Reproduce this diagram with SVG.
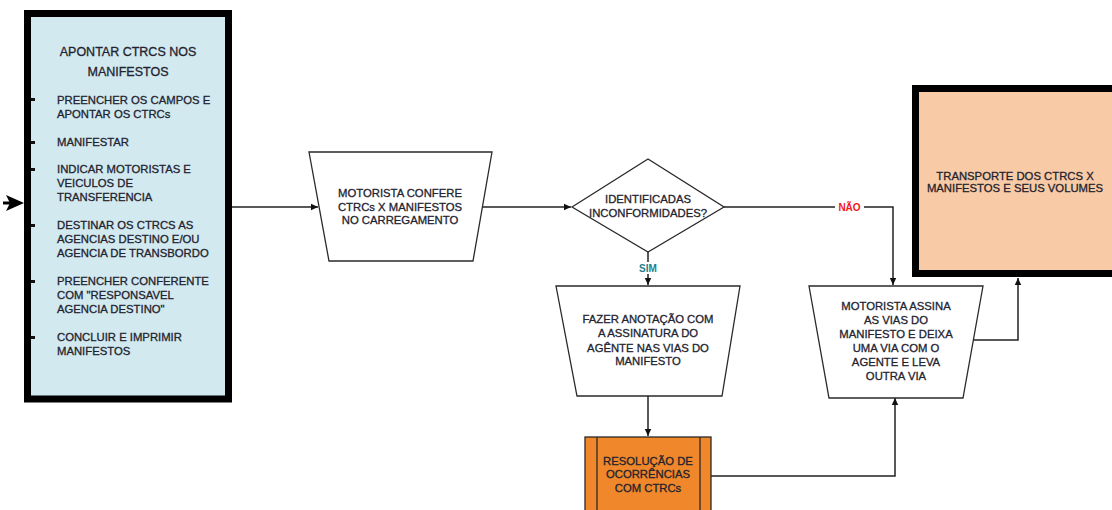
<svg xmlns="http://www.w3.org/2000/svg" width="1112" height="510" viewBox="0 0 1112 510">
  <style>
    .t { font-family: "Liberation Sans", Arial, sans-serif; font-size: 11.3px; fill: #23232f; stroke: #23232f; stroke-width: 0.3; }
    .c { text-anchor: middle; }
    .title { font-size: 12.5px; }
    .shape { stroke: #2a2a2a; stroke-width: 1.3; }
    .heavy { stroke: #000; stroke-width: 7; }
    .wire { fill: none; stroke: #222; stroke-width: 1.5; }
    .lbl { font-family: "Liberation Sans", Arial, sans-serif; font-size: 10px; font-weight: bold; text-anchor: middle; }
  </style>
  <defs>
    <marker id="ah" markerWidth="8" markerHeight="8" refX="7" refY="4" orient="auto" markerUnits="userSpaceOnUse">
      <path d="M0,0.8 L7,4 L0,7.2 Z" fill="#111"/>
    </marker>
  </defs>
  <rect width="1112" height="510" fill="#fff"/>

  <!-- connectors -->
  <g id="connectors">
    <path class="wire" d="M232,207 H318" marker-end="url(#ah)"/>
    <path class="wire" d="M483,207 H571" marker-end="url(#ah)"/>
    <path class="wire" d="M724,207 H893 V285" marker-end="url(#ah)"/>
    <path class="wire" d="M648,252 V285" marker-end="url(#ah)"/>
    <path class="wire" d="M648,396 V436" marker-end="url(#ah)"/>
    <path class="wire" d="M711,476 H895 V398" marker-end="url(#ah)"/>
    <path class="wire" d="M973,340 H1018 V278" marker-end="url(#ah)"/>
    <!-- branch labels -->
    <rect x="835" y="201" width="29" height="12" fill="#fff"/>
    <text class="lbl" x="849.5" y="211" fill="#f01818">NÃO</text>
    <rect x="636" y="262" width="24" height="12" fill="#fff"/>
    <text class="lbl" x="648" y="272" fill="#1d7f8c">SIM</text>
  </g>

  <!-- entry arrow on the left -->
  <g id="entry">
    <path d="M3,203 H10" stroke="#000" stroke-width="3"/>
    <path d="M6,195 L24,203 L6,211 L10,203 Z" fill="#000"/>
  </g>

  <g id="apontar">
    <rect class="heavy" x="27.5" y="13.5" width="201" height="385.5" fill="#d2e9ef"/>
    <g fill="#111">
      <rect x="31" y="98" width="4" height="3"/>
      <rect x="31" y="141" width="4" height="3"/>
      <rect x="31" y="168" width="4" height="3"/>
      <rect x="31" y="224" width="4" height="3"/>
      <rect x="31" y="280" width="4" height="3"/>
      <rect x="31" y="336" width="4" height="3"/>
    </g>
    <text class="t c title" x="128" y="56">APONTAR CTRCS NOS</text>
    <text class="t c title" x="128" y="76">MANIFESTOS</text>
    <text class="t" x="57" y="104">PREENCHER OS CAMPOS E</text>
    <text class="t" x="57" y="118">APONTAR OS CTRCs</text>
    <text class="t" x="57" y="146">MANIFESTAR</text>
    <text class="t" x="57" y="173">INDICAR MOTORISTAS E</text>
    <text class="t" x="57" y="187">VEICULOS DE</text>
    <text class="t" x="57" y="201">TRANSFERENCIA</text>
    <text class="t" x="57" y="229">DESTINAR OS CTRCS AS</text>
    <text class="t" x="57" y="243">AGENCIAS DESTINO E/OU</text>
    <text class="t" x="57" y="257">AGENCIA DE TRANSBORDO</text>
    <text class="t" x="57" y="285">PREENCHER CONFERENTE</text>
    <text class="t" x="57" y="299">COM "RESPONSAVEL</text>
    <text class="t" x="57" y="313">AGENCIA DESTINO"</text>
    <text class="t" x="57" y="341">CONCLUIR E IMPRIMIR</text>
    <text class="t" x="57" y="355">MANIFESTOS</text>
  </g>

  <g id="confere">
    <polygon class="shape" points="309,152 492,152 473,261 329,261" fill="#fff"/>
    <text class="t c" x="400" y="197">MOTORISTA CONFERE</text>
    <text class="t c" x="400" y="211">CTRCs X MANIFESTOS</text>
    <text class="t c" x="400" y="224">NO CARREGAMENTO</text>
  </g>

  <g id="decisao">
    <polygon class="shape" points="572,207 648,159 724,207 648,252" fill="#fff"/>
    <text class="t c" x="648" y="203">IDENTIFICADAS</text>
    <text class="t c" x="648" y="217">INCONFORMIDADES?</text>
  </g>

  <g id="anotacao">
    <polygon class="shape" points="556,286 740,286 722,396 577,396" fill="#fff"/>
    <text class="t c" x="648" y="323">FAZER ANOTAÇÃO COM</text>
    <text class="t c" x="648" y="337">A ASSINATURA DO</text>
    <text class="t c" x="648" y="352">AGÊNTE NAS VIAS DO</text>
    <text class="t c" x="648" y="365">MANIFESTO</text>
  </g>

  <g id="resolucao">
    <rect class="shape" x="585" y="437" width="126" height="80" fill="#f0872a"/>
    <line class="shape" x1="597" y1="437" x2="597" y2="517"/>
    <line class="shape" x1="700" y1="437" x2="700" y2="517"/>
    <text class="t c" x="648" y="465">RESOLUÇÃO DE</text>
    <text class="t c" x="648" y="478">OCORRÊNCIAS</text>
    <text class="t c" x="648" y="492">COM CTRCs</text>
  </g>

  <g id="assina">
    <polygon class="shape" points="809,286 983,286 963,398 829,398" fill="#fff"/>
    <text class="t c" x="896" y="310">MOTORISTA ASSINA</text>
    <text class="t c" x="896" y="324">AS VIAS DO</text>
    <text class="t c" x="896" y="338">MANIFESTO E DEIXA</text>
    <text class="t c" x="896" y="352">UMA VIA COM O</text>
    <text class="t c" x="896" y="366">AGENTE E LEVA</text>
    <text class="t c" x="896" y="380">OUTRA VIA</text>
  </g>

  <g id="transporte">
    <rect class="heavy" x="915.5" y="88.5" width="210" height="185" fill="#f8cba6"/>
    <text class="t c" x="1015" y="180">TRANSPORTE DOS CTRCS X</text>
    <text class="t c" x="1015" y="192">MANIFESTOS E SEUS VOLUMES</text>
  </g>
</svg>
